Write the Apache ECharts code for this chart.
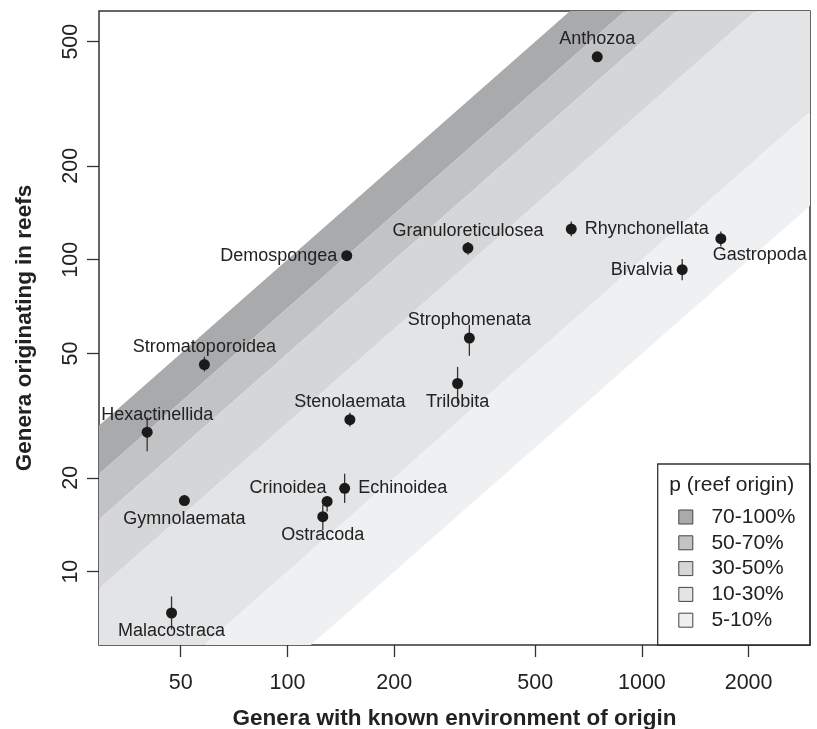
<!DOCTYPE html>
<html>
<head>
<meta charset="utf-8">
<script src="https://cdn.jsdelivr.net/npm/echarts@6/dist/echarts.min.js"></script>
<style>
html, body { margin: 0; padding: 0; background: #fff; }
#chart { width: 817px; height: 729px; }
</style>
</head>
<body>
<div id="chart"></div>
<script>
// taxa, genera with known environment (x) and genera originating in reefs (y)
var taxa = ['Anthozoa', 'Demospongea', 'Granuloreticulosea', 'Rhynchonellata', 'Gastropoda',
            'Bivalvia', 'Strophomenata', 'Trilobita', 'Stromatoporoidea', 'Hexactinellida',
            'Stenolaemata', 'Gymnolaemata', 'Crinoidea', 'Echinoidea', 'Ostracoda', 'Malacostraca'];
var generaKnown = [748, 147, 323, 632, 1670, 1299, 326, 302, 58.3, 40.2, 150, 51.2, 129.4, 145, 125.8, 47.1];
var generaReef  = [447, 103, 109, 125.4, 116.8, 92.9, 56.1, 40.1, 46.1, 28.0, 30.7, 16.9, 16.8, 18.5, 15.0, 7.37];
var reefLow  = [null, null, 103.8, 118.8, 110.3, 85.9, 49.2, 34.6, 43.8, 24.3, 29.2, null, 15.6, 16.6, 13.6, 6.52];
var reefHigh = [null, null, 113.9, 132.7, 123.2, 100.5, 61.9, 45.3, 48.9, 31.2, 32.3, null, 17.4, 20.6, 16.4, 8.33];

// shaded bands: proportion of genera with reef origin
var bandNames = ['70-100%', '50-70%', '30-50%', '10-30%', '5-10%'];
var bandUpper = [1, 0.7, 0.5, 0.3, 0.1];
var bandLower = [0.7, 0.5, 0.3, 0.1, 0.05];
var bandColors = ['#a9aaac', '#c2c3c5', '#d5d6d8', '#e3e4e6', '#eff0f2'];

var xTicks = [50, 100, 200, 500, 1000, 2000];
var yTicks = [10, 20, 50, 100, 200, 500];

// where each label sits relative to its point
var labelPlace = {
    Anthozoa: 'top', Demospongea: 'left', Granuloreticulosea: 'top', Rhynchonellata: 'right',
    Gastropoda: 'bottom', Bivalvia: 'left', Strophomenata: 'top', Trilobita: 'bottom',
    Stromatoporoidea: 'top', Hexactinellida: 'top', Stenolaemata: 'top', Gymnolaemata: 'bottom',
    Crinoidea: 'left', Echinoidea: 'right', Ostracoda: 'bottom', Malacostraca: 'bottom'
};
var labelShift = { Gastropoda: [39, -2], Hexactinellida: [10, 0], Crinoidea: [9, -13] };
var sideDistance = { top: 3, bottom: 4, left: 4, right: 8 };

var font = 'Liberation Sans, Arial, Helvetica, sans-serif';
var ink = '#222';

var dom = document.getElementById('chart');
var myChart = echarts.init(dom);

var points = taxa.map(function (name, i) {
    var pos = labelPlace[name];
    return {
        name: name,
        value: [generaKnown[i], generaReef[i]],
        label: { position: pos, distance: sideDistance[pos], offset: labelShift[name] || [0, 0] }
    };
});

var bars = [];
taxa.forEach(function (name, i) {
    if (reefLow[i] != null) bars.push([generaKnown[i], reefLow[i], reefHigh[i]]);
});

var series = bandNames.map(function (name, i) {
    return {
        type: 'custom',
        name: name,
        clip: true,
        silent: true,
        z: 1,
        itemStyle: { color: bandColors[i] },
        data: [[bandUpper[i], bandLower[i]]],
        renderItem: function (params, api) {
            var hi = api.value(0), lo = api.value(1);
            var x0 = 5, x1 = 20000;
            var pts = [api.coord([x0, hi * x0]), api.coord([x1, hi * x1]),
                       api.coord([x1, lo * x1]), api.coord([x0, lo * x0])];
            return { type: 'polygon', shape: { points: pts }, style: { fill: api.visual('color') } };
        }
    };
});

series.push({
    type: 'custom',
    name: 'range',
    clip: true,
    silent: true,
    z: 3,
    data: bars,
    renderItem: function (params, api) {
        var a = api.coord([api.value(0), api.value(1)]);
        var b = api.coord([api.value(0), api.value(2)]);
        return { type: 'line', shape: { x1: a[0], y1: a[1], x2: b[0], y2: b[1] },
                 style: { stroke: '#333', lineWidth: 1.3 } };
    }
});

series.push({
    type: 'scatter',
    name: 'taxa',
    z: 4,
    symbol: 'circle',
    symbolSize: 11,
    itemStyle: { color: '#1a1a1a', opacity: 1 },
    label: { show: true, formatter: '{b}', fontFamily: font, fontSize: 18, color: ink },
    data: points
});

var option = {
    animation: false,
    textStyle: { fontFamily: font },
    grid: { left: 99, top: 11, width: 711, height: 634, outerBoundsMode: 'none',
            show: true, borderColor: '#333', borderWidth: 1.5 },
    xAxis: {
        type: 'log', logBase: 10, min: 29.4, max: 2980,
        name: 'Genera with known environment of origin',
        nameLocation: 'middle', nameGap: 62,
        nameTextStyle: { fontFamily: font, fontWeight: 'bold', fontSize: 22.5, color: ink },
        axisLine: { show: false },
        axisTick: { show: true, inside: false, length: 12, customValues: xTicks, lineStyle: { color: '#333', width: 1.3 } },
        axisLabel: { customValues: xTicks, fontSize: 21.5, color: ink, margin: 27,
                     formatter: function (v) { return String(Math.round(v)); } },
        minorTick: { show: false },
        splitLine: { show: false }
    },
    yAxis: {
        type: 'log', logBase: 10, min: 5.82, max: 627,
        name: 'Genera originating in reefs',
        nameLocation: 'middle', nameGap: 63, nameRotate: 90,
        nameTextStyle: { fontFamily: font, fontWeight: 'bold', fontSize: 22.5, color: ink },
        axisLine: { show: false },
        axisTick: { show: true, inside: false, length: 12, customValues: yTicks, lineStyle: { color: '#333', width: 1.3 } },
        axisLabel: { customValues: yTicks, rotate: 90, fontSize: 21.5, color: ink, margin: 17,
                     formatter: function (v) { return String(Math.round(v)); } },
        minorTick: { show: false },
        splitLine: { show: false }
    },
    legend: {
        orient: 'vertical', left: 673.3, top: 501.5,
        itemWidth: 14, itemHeight: 14, itemGap: 4.8,
        icon: 'rect', selectedMode: false,
        data: bandNames,
        itemStyle: { borderColor: '#444', borderWidth: 1 },
        textStyle: { fontFamily: font, fontSize: 21, color: ink, padding: [0, 0, 0, 13.6] }
    },
    graphic: [
        { type: 'rect', shape: { x: 657.7, y: 464, width: 152.3, height: 181.3 },
          style: { fill: 'none', stroke: '#333', lineWidth: 1.3 }, z: 10 },
        { type: 'text', x: 669.3, y: 485, z: 10,
          style: { text: 'p (reef origin)', font: '21px ' + font, fill: ink, verticalAlign: 'middle' } }
    ],
    series: series
};

if (option && typeof option === 'object') {
    myChart.setOption(option, true);
}
</script>
</body>
</html>
